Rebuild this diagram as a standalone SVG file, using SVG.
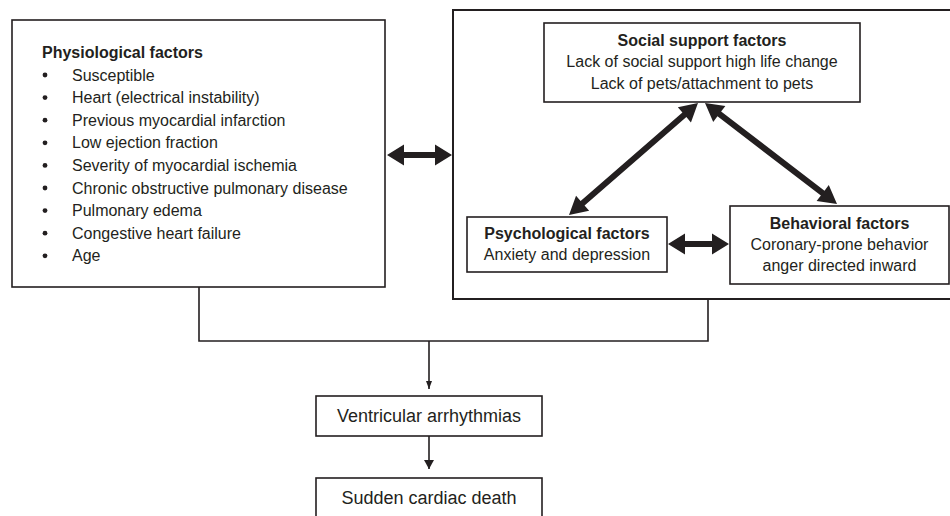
<svg xmlns="http://www.w3.org/2000/svg" width="950" height="516" viewBox="0 0 950 516">
<style>
  .box { fill: #ffffff; stroke: #231f20; stroke-width: 1.6; }
  .outer { fill: none; stroke: #231f20; stroke-width: 2; }
  .t { font-family: "Liberation Sans", Arial, sans-serif; font-size: 16px; fill: #231f20; }
  .b { font-weight: bold; }
  .c { text-anchor: middle; }
  .big { font-size: 18px; }
  .line { fill: none; stroke: #231f20; stroke-width: 1.6; }
  .dbl { fill: #231f20; stroke: none; }
  .dot { fill: #231f20; }
</style>
<defs>
  <marker id="ahs" markerUnits="userSpaceOnUse" markerWidth="6" markerHeight="8" viewBox="0 0 6 8" refX="3" refY="8" orient="0">
    <path d="M0,0 L6,0 L3,8 z" fill="#231f20"/>
  </marker>
  <marker id="ahl" markerUnits="userSpaceOnUse" markerWidth="10" markerHeight="9" viewBox="0 0 10 9" refX="5" refY="9" orient="0">
    <path d="M0,0 L10,0 L5,9 z" fill="#231f20"/>
  </marker>
</defs>
<rect width="950" height="516" fill="#ffffff"/>

<g id="physiological">
  <rect class="box" x="12" y="20" width="373" height="267"/>
  <text class="t b" x="42" y="57.5">Physiological factors</text>
  <g class="dot">
    <circle cx="45" cy="75" r="2.4"/>
    <circle cx="45" cy="97.6" r="2.4"/>
    <circle cx="45" cy="120.2" r="2.4"/>
    <circle cx="45" cy="142.8" r="2.4"/>
    <circle cx="45" cy="165.4" r="2.4"/>
    <circle cx="45" cy="188" r="2.4"/>
    <circle cx="45" cy="210.6" r="2.4"/>
    <circle cx="45" cy="233.2" r="2.4"/>
    <circle cx="45" cy="255.8" r="2.4"/>
  </g>
  <text class="t" x="72" y="80.5">Susceptible</text>
  <text class="t" x="72" y="103.1">Heart (electrical instability)</text>
  <text class="t" x="72" y="125.7">Previous myocardial infarction</text>
  <text class="t" x="72" y="148.3">Low ejection fraction</text>
  <text class="t" x="72" y="170.9">Severity of myocardial ischemia</text>
  <text class="t" x="72" y="193.5">Chronic obstructive pulmonary disease</text>
  <text class="t" x="72" y="216.1">Pulmonary edema</text>
  <text class="t" x="72" y="238.7">Congestive heart failure</text>
  <text class="t" x="72" y="261.3">Age</text>
</g>

<g id="psychosocial-group">
  <rect class="outer" x="453" y="10" width="520" height="289"/>
</g>

<g id="social">
  <rect class="box" x="544" y="23" width="316" height="79"/>
  <text class="t b c" x="702" y="45.5">Social support factors</text>
  <text class="t c" x="702" y="67">Lack of social support high life change</text>
  <text class="t c" x="702" y="88.5">Lack of pets/attachment to pets</text>
</g>

<g id="psychological">
  <rect class="box" x="467" y="217" width="200" height="55"/>
  <text class="t b c" x="567" y="238.5">Psychological factors</text>
  <text class="t c" x="567" y="260">Anxiety and depression</text>
</g>

<g id="behavioral">
  <rect class="box" x="730" y="206" width="219" height="78"/>
  <text class="t b c" x="839.5" y="228.5">Behavioral factors</text>
  <text class="t c" x="839.5" y="249.5">Coronary-prone behavior</text>
  <text class="t c" x="839.5" y="270.5">anger directed inward</text>
</g>

<g id="ventricular">
  <rect class="box" x="316" y="396" width="226" height="40"/>
  <text class="t big c" x="429" y="422">Ventricular arrhythmias</text>
</g>

<g id="sudden-death">
  <rect class="box" x="316" y="478" width="226" height="60"/>
  <text class="t big c" x="429" y="503.5">Sudden cardiac death</text>
</g>

<g id="connectors">
  <polygon class="dbl" points="387,155 404,144.5 404,152 435,152 435,144.5 452,155 435,165.5 435,158 404,158 404,165.5"/>
  <polygon class="dbl" points="668,244 685,233.5 685,241 712,241 712,233.5 729,244 712,254.5 712,247 685,247 685,254.5"/>
  <g transform="translate(569,215) rotate(-40.96)">
    <polygon class="dbl" points="0,0 18,-10 18,-3 152.8,-3 152.8,-10 170.8,0 152.8,10 152.8,3 18,3 18,10"/>
  </g>
  <g transform="translate(705,103) rotate(37.42)">
    <polygon class="dbl" points="0,0 18,-10 18,-3 148.2,-3 148.2,-10 166.2,0 148.2,10 148.2,3 18,3 18,10"/>
  </g>
  <polyline class="line" points="199,287 199,341 708,341 708,299"/>
  <line class="line" x1="429" y1="341" x2="429" y2="389" marker-end="url(#ahs)"/>
  <line class="line" x1="429" y1="436" x2="429" y2="469" marker-end="url(#ahl)"/>
</g>
</svg>
